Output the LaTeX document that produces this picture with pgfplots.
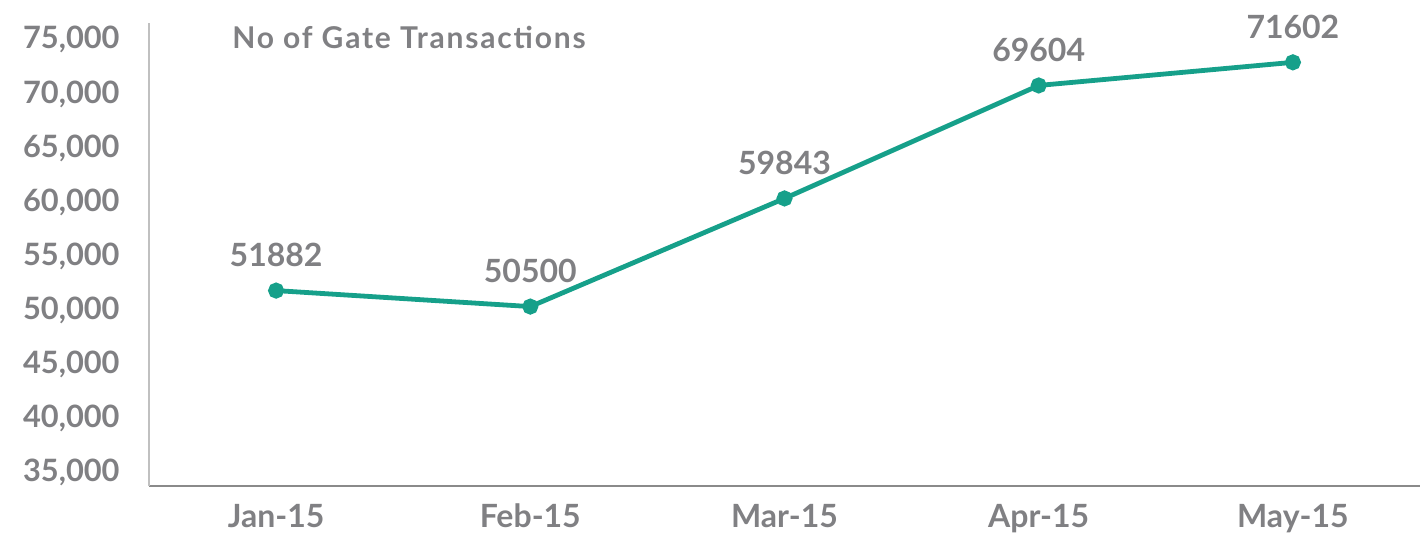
\documentclass[border=0pt]{standalone}
\usepackage{pgfplots}
\pgfplotsset{compat=1.18}
\usepackage{pgfplotstable}
\usepackage{fontspec}
\setmainfont{Lato}
\newfontfamily\titlefont{Lato}[LetterSpace=6]
\definecolor{lineteal}{HTML}{16A08A}
\definecolor{txtgray}{HTML}{808083}
\definecolor{yaxgray}{HTML}{C0C0C0}
\definecolor{xaxgray}{HTML}{8A8A8A}
\pgfplotstableread{
x y lbl
0 51882 51882
1 50500 50500
2 59843 59843
3 69604 69604
4 71602 71602
}\gatedata
\begin{document}
\begin{tikzpicture}
\useasboundingbox (0,0) rectangle (711.5bp,269bp);
\begin{axis}[
  at={(74.5bp,26bp)}, anchor=south west,
  scale only axis,
  width=635.5bp, height=231.5bp,
  xmin=-0.5, xmax=4.5,
  ymin=35000, ymax=75000,
  clip=false,
  scaled y ticks=false,
  axis x line*=bottom, axis y line*=left,
  x axis line style={xaxgray, line width=0.8bp, -},
  y axis line style={yaxgray, line width=0.8bp, -},
  major tick length=0pt,
  xtick={0,1,2,3,4},
  xticklabels={Jan-15,Feb-15,Mar-15,Apr-15,May-15},
  ytick={36296,40972,45648,50324,55000,59676,64352,69028,73704},
  yticklabels={{35,000},{40,000},{45,000},{50,000},{55,000},{60,000},{65,000},{70,000},{75,000}},
  xticklabel style={anchor=base, inner sep=0pt, yshift=-20.5bp, text=txtgray,
    font=\fontsize{16bp}{19bp}\selectfont\bfseries},
  yticklabel style={anchor=base east, inner sep=0pt, xshift=-14.5bp, yshift=-5.5bp, text=txtgray,
    font=\fontsize{15.4bp}{18bp}\selectfont\bfseries},
  nodes near coords,
  point meta=explicit symbolic,
  every node near coord/.append style={anchor=base, inner sep=0pt, yshift=12bp, text=txtgray,
    font=\fontsize{16bp}{19bp}\selectfont\bfseries},
]
\addplot[color=lineteal, line width=2.4bp, mark=*, mark size=2.8bp,
  mark options={fill=lineteal, draw=lineteal}]
  table[x=x, y=y, meta=lbl] {\gatedata};
\node[anchor=base west, inner sep=0pt, text=txtgray,
  font=\titlefont\fontsize{15bp}{18bp}\selectfont\bfseries]
  at (rel axis cs:0.0653,0.946) {No of Gate Transactions};
\end{axis}
\end{tikzpicture}
\end{document}
